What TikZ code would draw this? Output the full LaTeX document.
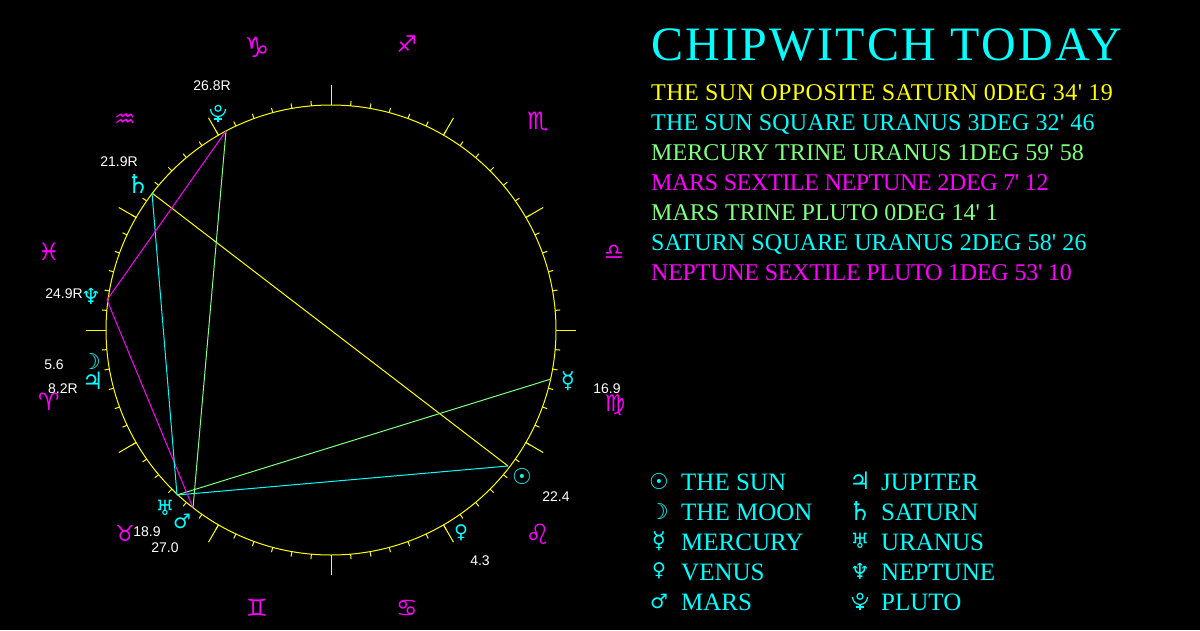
\documentclass[tikz,border=0pt]{standalone}
\usepackage{fontspec}
\setmainfont{Liberation Sans}
\newfontfamily\chipfont{Liberation Serif}
\newfontfamily\glyphfont{DejaVu Sans}
\definecolor{chipcyan}{RGB}{0,255,255}
\definecolor{chipmagenta}{RGB}{255,0,255}
\definecolor{chipyellow}{RGB}{255,255,0}
\definecolor{chipgreen}{RGB}{128,255,128}
\tikzset{
  planet/.style={text=chipcyan, inner sep=0pt, font=\glyphfont\fontsize{#1}{#1}\selectfont},
  sign/.style={text=chipmagenta, inner sep=0pt, font=\glyphfont\fontsize{#1}{#1}\selectfont},
  degree/.style={text=white, inner sep=0pt, font=\fontsize{14}{14}\selectfont},
  aspectline/.style={anchor=base west, inner sep=0pt, font=\chipfont\addfontfeature{LetterSpace=#1}\fontsize{24}{24}\selectfont},
  legendline/.style={anchor=base west, inner sep=0pt, text=chipcyan, font=\chipfont\fontsize{25}{25}\selectfont},
  chord/.style={line width=1pt, draw=#1},
  plutoglyph/.pic={
    \draw[chipcyan, line width=1.2pt] (0,-4.7) circle (3);
    \draw[chipcyan, line width=1.2pt] (-7.5,-4) arc (180:0:7.5);
    \draw[chipcyan, line width=1.2pt] (0,3.5) -- (0,9) (-4,6) -- (4,6);
  }
}

\begin{document}
\begin{tikzpicture}[x=1pt,y=-1pt]
  \fill[black] (0,0) rectangle (1200,630);
  \useasboundingbox (0,0) rectangle (1200,630);

  % Wheel
  \coordinate (hub) at (331,330);
  \draw[chord=chipyellow] (hub) circle (225);
  \foreach \a in {0,5,...,355}
    \draw[chord=chipyellow, shift={(hub)}] (\a:225) -- (\a:230);
  \foreach \a in {0,30,...,330}
    \draw[chord=chipyellow, shift={(hub)}] (\a:225) -- (\a:245);

  % Aspect end points (manual placement)
  \coordinate (sunpt) at (508,466);
  \coordinate (mercurypt) at (551,379);
  \coordinate (marspt) at (193,508);
  \coordinate (saturnpt) at (152,193);
  \coordinate (uranuspt) at (177,495);
  \coordinate (neptunept) at (107,300);
  \coordinate (plutopt) at (226,131);

  \draw[chord=chipyellow] (sunpt) -- (saturnpt);
  \draw[chord=chipcyan] (sunpt) -- (uranuspt);
  \draw[chord=chipgreen] (mercurypt) -- (uranuspt);
  \draw[chord=chipmagenta] (marspt) -- (neptunept);
  \draw[chord=chipgreen] (marspt) -- (plutopt);
  \draw[chord=chipcyan] (saturnpt) -- (uranuspt);
  \draw[chord=chipmagenta] (neptunept) -- (plutopt);

  % Signs
  \node[sign=28] (capricorn) at (257,47) {♑};
  \node[sign=23] (sagittarius) at (407,44) {♐};
  \node[sign=24] (scorpio) at (538,122) {♏};
  \node[sign=22] (libra) at (614,252) {♎};
  \node[sign=23] (virgo) at (615,405) {♍};
  \node[sign=28] (leo) at (538,534) {♌};
  \node[sign=24] (cancer) at (407,608) {♋};
  \node[sign=24] (gemini) at (257,608) {♊};
  \node[sign=22] (taurus) at (125,533) {♉};
  \node[sign=24] (aries) at (49,402) {♈};
  \node[sign=24] (pisces) at (49,252) {♓};
  \node[sign=24] (aquarius) at (125,121) {♒};

  % Planets and their degrees
  \node[planet=22] (sun) at (522,476) {☉};
  \node[planet=22] (moon) at (91,361) {☽};
  \node[planet=23] (mercury) at (568,381) {☿};
  \node[planet=19] (venus) at (461,533) {♀};
  \node[planet=20] (mars) at (182,521) {♂};
  \node[planet=24] (jupiter) at (93,381) {♃};
  \node[planet=26] (saturn) at (138,184) {♄};
  \node[planet=21] (uranus) at (165,508) {♅};
  \node[planet=22] (neptune) at (91,296) {♆};
  \pic at (218,113) {plutoglyph};

  \node[degree] (plutodeg) at (212,86) {26.8R};
  \node[degree] (saturndeg) at (119,162) {21.9R};
  \node[degree] (neptunedeg) at (64,294) {24.9R};
  \node[degree] (moondeg) at (54,365) {5.6};
  \node[degree] (jupiterdeg) at (63,389) {8.2R};
  \node[degree] (mercurydeg) at (607,389) {16.9};
  \node[degree] (sundeg) at (556,497) {22.4};
  \node[degree] (venusdeg) at (480,561) {4.3};
  \node[degree] (uranusdeg) at (147,532) {18.9};
  \node[degree] (marsdeg) at (165,548) {27.0};

  % Title and aspects
  \node[anchor=base west, inner sep=0pt, text=chipcyan, font=\chipfont\addfontfeature{LetterSpace=4.8}\fontsize{48}{48}\selectfont] (title) at (651,60) {CHIPWITCH TODAY};
  \node[aspectline=1.8, text=chipyellow] (aspect1) at (651,100) {THE SUN OPPOSITE SATURN 0DEG 34' 19};
  \node[aspectline=0.7, text=chipcyan] (aspect2) at (651,130) {THE SUN SQUARE URANUS 3DEG 32' 46};
  \node[aspectline=0.4, text=chipgreen] (aspect3) at (651,160) {MERCURY TRINE URANUS 1DEG 59' 58};
  \node[aspectline=-1.5, text=chipmagenta] (aspect4) at (651,190) {MARS SEXTILE NEPTUNE 2DEG 7' 12};
  \node[aspectline=-0.1, text=chipgreen] (aspect5) at (651,220) {MARS TRINE PLUTO 0DEG 14' 1};
  \node[aspectline=0.6, text=chipcyan] (aspect6) at (651,250) {SATURN SQUARE URANUS 2DEG 58' 26};
  \node[aspectline=-1, text=chipmagenta] (aspect7) at (651,280) {NEPTUNE SEXTILE PLUTO 1DEG 53' 10};

  % Legend
  \node[planet=22] (keysun) at (659,481) {☉};
  \node[planet=22] (keymoon) at (659,511) {☽};
  \node[planet=23] (keymercury) at (659,541) {☿};
  \node[planet=19] (keyvenus) at (659,571) {♀};
  \node[planet=20] (keymars) at (659,601) {♂};
  \node[planet=24] (keyjupiter) at (860,481) {♃};
  \node[planet=26] (keysaturn) at (860,511) {♄};
  \node[planet=21] (keyuranus) at (860,541) {♅};
  \node[planet=22] (keyneptune) at (860,571) {♆};
  \pic at (860,601) {plutoglyph};

  \node[legendline] (namesun) at (681,490) {THE SUN};
  \node[legendline] (namemoon) at (681,520) {THE MOON};
  \node[legendline] (namemercury) at (681,550) {MERCURY};
  \node[legendline] (namevenus) at (681,580) {VENUS};
  \node[legendline] (namemars) at (681,610) {MARS};
  \node[legendline] (namejupiter) at (881,490) {JUPITER};
  \node[legendline] (namesaturn) at (881,520) {SATURN};
  \node[legendline] (nameuranus) at (881,550) {URANUS};
  \node[legendline] (nameneptune) at (881,580) {NEPTUNE};
  \node[legendline] (namepluto) at (881,610) {PLUTO};
\end{tikzpicture}
\end{document}
